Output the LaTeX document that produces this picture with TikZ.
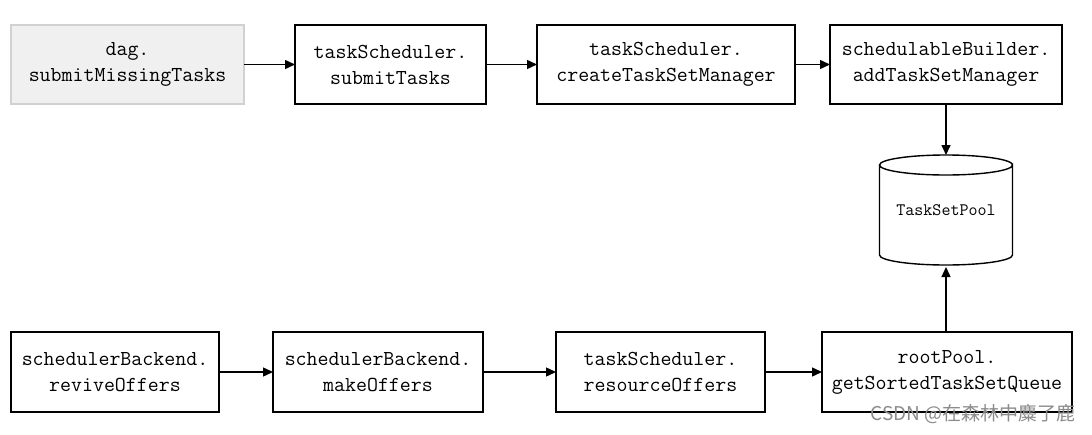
\documentclass[tikz,border=0pt]{standalone}
\usepackage{fontspec}
\newfontfamily\cjk{Noto Sans CJK SC}
\usetikzlibrary{arrows.meta}
\tikzset{
  box/.style={draw=black, line width=1.4pt, minimum height=79pt, align=center, inner sep=0pt, outer sep=0pt,
    font=\ttfamily\fontsize{21.3}{26}\selectfont},
  greybox/.style={box, draw=black!18, fill=black!6},
  arr/.style={line width=1.4pt, -{Triangle[length=10pt,width=9pt]}},
}
\begin{document}
\begin{tikzpicture}[x=1pt,y=-1pt]
\useasboundingbox[fill=white] (0,0) rectangle (1092,434);
\node[greybox, minimum width=233pt] (dag) at (127.5,64.5) {dag.\\submitMissingTasks};
\node[box, minimum width=191pt] (submit) at (390.5,64.5) {taskScheduler.\\submitTasks};
\node[box, minimum width=258pt] (create) at (666,64.5) {taskScheduler.\\createTaskSetManager};
\node[box, minimum width=232pt] (builder) at (946,64.5) {schedulableBuilder.\\addTaskSetManager};
\node[minimum height=110pt, minimum width=133pt, inner sep=0pt, outer sep=0pt,
  font=\ttfamily\fontsize{17.5}{18}\selectfont] (pool) at (946,210) {TaskSetPool};
\draw[line width=1.4pt] ([yshift=-10pt]pool.north west) -- ([yshift=10pt]pool.south west)
  arc[start angle=180, end angle=360, x radius=66.5pt, y radius=10pt]
  -- ([yshift=-10pt]pool.north east)
  arc[start angle=0, end angle=-360, x radius=66.5pt, y radius=10pt];
\node[box, minimum width=208pt, minimum height=80pt] (revive) at (115,372) {schedulerBackend.\\reviveOffers};
\node[box, minimum width=210pt, minimum height=80pt] (make) at (378,372) {schedulerBackend.\\makeOffers};
\node[box, minimum width=209pt, minimum height=80pt] (resource) at (660.5,372) {taskScheduler.\\resourceOffers};
\node[box, minimum width=250pt, minimum height=80pt] (root) at (947,372) {rootPool.\\getSortedTaskSetQueue};
\draw[arr] (dag) -- (submit);
\draw[arr] (submit) -- (create);
\draw[arr] (create) -- (builder);
\draw[arr] (builder.south) -- (pool.north);
\draw[arr] (root.north -| pool.south) -- ([yshift=-2pt]pool.south);
\draw[arr] (revive) -- (make);
\draw[arr] (make) -- (resource);
\draw[arr] (resource) -- (root);
\node[font=\cjk\fontsize{19}{20}\selectfont, text=black!45, inner sep=0pt, anchor=east] (wm) at (1076,414) {CSDN @在森林中麋了鹿};
\end{tikzpicture}
\end{document}
